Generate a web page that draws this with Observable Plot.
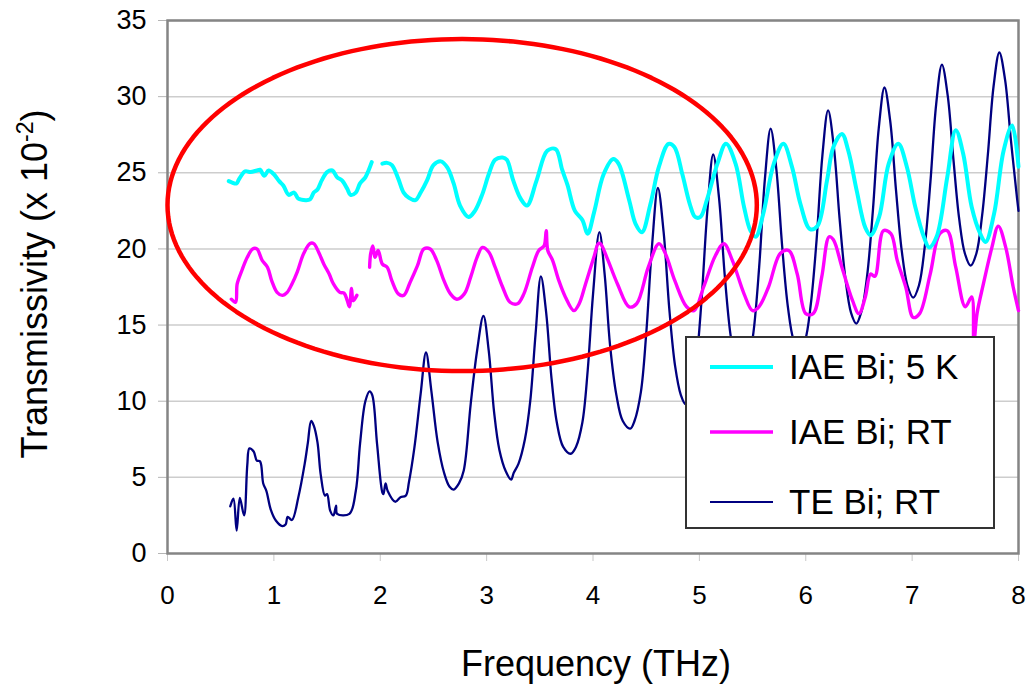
<!DOCTYPE html>
<html><head><meta charset="utf-8">
<script src="https://cdn.jsdelivr.net/npm/d3@7"></script>
<script src="https://cdn.jsdelivr.net/npm/@observablehq/plot@0.6"></script>
<style>body{margin:0;background:#fff} #chart{position:relative;width:1029px;height:686px}</style>
</head><body><div id="chart"></div>
<script>
// ---- Data ----
const seriesNames = ["IAE Bi; 5 K", "IAE Bi; RT", "TE Bi; RT"];
const seriesColors = ["#00FFFF", "#FF00FF", "#000080"];
const xTicks = [0,1,2,3,4,5,6,7,8];
const yTicks = [0,5,10,15,20,25,30,35];

// IAE Bi; 5 K  (two segments, gap near 1.95 THz)
const cyanFreqA = [0.576,0.65,0.67,0.73,0.78,0.84,0.87,0.91,0.95,1.00,1.05,1.09,1.14,1.19,1.23,1.30,1.34,1.375,1.41,1.45,1.50,1.55,1.595,1.64,1.69,1.72,1.77,1.81,1.86,1.89,1.92];
const cyanValA  = [24.45,24.3,24.55,25.1,25.05,25.15,25.2,24.8,25.15,24.9,24.45,24.15,23.55,23.7,23.3,23.2,23.25,23.7,23.9,24.5,25.05,25.15,24.7,24.5,23.95,23.55,23.7,24.3,24.7,25.15,25.7];
const cyanFreqB = [2.02,2.065,2.11,2.17,2.22,2.27,2.33,2.38,2.44,2.50,2.57,2.63,2.69,2.75,2.83,2.89,2.96,3.02,3.08,3.15,3.19,3.25,3.32,3.38,3.47,3.57,3.65,3.71,3.76,3.83,3.90,3.95,4.01,4.10,4.19,4.24,4.34,4.40,4.46,4.54,4.62,4.71,4.765,4.84,4.91,4.96,5.01,5.07,5.17,5.25,5.34,5.42,5.48,5.53,5.60,5.70,5.79,5.87,5.95,6.04,6.11,6.20,6.26,6.34,6.40,6.48,6.56,6.61,6.69,6.78,6.87,6.95,7.03,7.11,7.16,7.23,7.33,7.41,7.48,7.56,7.64,7.69,7.77,7.86,7.94,8.0];
const cyanValB  = [25.6,25.65,25.5,24.6,23.7,23.35,23.2,23.7,24.5,25.5,25.75,25.35,24.3,22.85,22.1,22.5,23.6,24.9,25.85,26.0,25.85,24.5,23.3,22.85,24.5,26.45,26.55,25.2,24.2,22.5,21.9,21.0,22.4,24.9,25.9,25.6,23.2,21.65,21.1,22.95,25.4,26.9,26.7,24.9,22.95,22.1,22.1,23.2,25.6,26.9,25.6,22.75,21.2,20.8,22.3,25.6,26.9,25.4,22.95,21.3,21.5,24.5,26.7,27.55,26.45,23.8,21.4,20.9,22.1,25.6,26.9,25.4,22.75,20.8,20.1,20.8,24.7,27.8,26.25,22.75,21.0,20.45,22.3,26.45,28.1,25.4];

// IAE Bi; RT  (two segments, gap near 1.85 THz)
const magFreqA = [0.60,0.64,0.655,0.70,0.75,0.80,0.84,0.89,0.94,0.98,1.03,1.08,1.125,1.17,1.22,1.28,1.34,1.375,1.42,1.47,1.52,1.56,1.62,1.66,1.69,1.71,1.73,1.745,1.78];
const magValA  = [16.7,16.5,17.7,18.6,19.45,20.0,20.0,19.25,18.8,17.9,17.15,16.95,17.15,17.7,18.5,19.7,20.35,20.35,19.8,19.0,18.35,17.7,17.15,17.1,16.6,16.2,17.4,16.6,16.95];
const magFreqB = [1.90,1.91,1.93,1.95,1.98,2.02,2.065,2.11,2.17,2.22,2.28,2.35,2.41,2.47,2.53,2.60,2.66,2.72,2.79,2.85,2.91,2.96,3.02,3.08,3.15,3.22,3.29,3.35,3.43,3.49,3.54,3.56,3.575,3.62,3.68,3.74,3.82,3.87,3.93,4.01,4.05,4.07,4.13,4.23,4.34,4.41,4.52,4.62,4.68,4.77,4.88,4.95,5.04,5.15,5.23,5.31,5.42,5.50,5.56,5.65,5.76,5.84,5.92,6.00,6.07,6.15,6.22,6.26,6.34,6.44,6.50,6.56,6.61,6.65,6.73,6.80,6.86,6.94,7.01,7.07,7.17,7.26,7.33,7.41,7.50,7.56,7.58,7.61,7.67,7.75,7.81,7.88,7.95,8.0];
const magValB  = [18.8,19.7,20.2,19.45,19.9,19.0,18.8,17.9,17.05,16.95,17.8,18.9,20.0,20.0,19.25,17.9,17.05,16.7,17.05,18.15,19.45,20.1,19.8,18.8,17.5,16.5,16.4,17.05,18.8,19.9,20.2,21.2,19.9,19.25,17.9,16.85,15.95,16.4,17.7,19.5,20.35,20.35,19.45,17.7,16.2,16.4,18.8,20.35,19.7,17.9,16.2,15.95,17.5,19.55,20.35,19.25,17.05,15.95,16.2,17.5,19.7,19.9,18.35,15.75,15.75,18.15,20.8,20.6,18.8,16.6,15.75,16.85,18.35,18.2,21.2,21.0,19.25,17.5,15.5,15.75,18.35,21.0,21.2,18.8,16.2,16.85,13.8,15.75,17.7,20.1,21.5,20.1,17.5,15.95];

// TE Bi; RT
const teFreq = [0.59,0.62,0.65,0.68,0.72,0.75,0.77,0.81,0.84,0.87,0.90,0.93,0.97,1.02,1.08,1.11,1.13,1.17,1.23,1.29,1.32,1.35,1.375,1.41,1.44,1.48,1.50,1.53,1.56,1.585,1.595,1.71,1.77,1.81,1.86,1.90,1.925,1.97,2.02,2.03,2.05,2.07,2.14,2.19,2.24,2.27,2.32,2.38,2.43,2.48,2.54,2.60,2.65,2.69,2.74,2.785,2.85,2.91,2.97,3.02,3.07,3.12,3.18,3.23,3.255,3.30,3.36,3.41,3.46,3.51,3.56,3.61,3.66,3.72,3.79,3.84,3.90,3.95,4.00,4.06,4.11,4.16,4.22,4.28,4.35,4.39,4.45,4.50,4.556,4.61,4.664,4.718,4.772,4.826,4.87,4.92,4.97,5.02,5.076,5.13,5.184,5.238,5.292,5.346,5.40,5.454,5.508,5.562,5.616,5.67,5.724,5.778,5.832,5.886,5.94,5.994,6.048,6.102,6.156,6.21,6.264,6.318,6.372,6.426,6.475,6.524,6.578,6.632,6.686,6.74,6.794,6.848,6.902,6.956,7.01,7.064,7.118,7.172,7.226,7.28,7.334,7.388,7.442,7.496,7.55,7.604,7.658,7.712,7.766,7.82,7.874,7.928,7.982,8.0];
const teVal  = [3.1,3.6,1.5,3.65,2.5,5.8,6.9,6.7,6.1,6.05,4.6,4.1,2.9,2.15,1.8,1.9,2.4,2.2,3.7,5.9,7.3,8.7,8.4,7.3,5.2,3.8,3.9,2.8,2.5,3.15,2.6,2.6,4.1,7.2,10.0,10.65,10.4,7.2,4.0,3.9,4.6,4.1,3.4,3.7,3.8,4.7,6.9,10.5,13.2,10.7,7.3,5.3,4.4,4.2,4.6,5.45,9.8,13.3,15.6,13.3,9.3,6.8,5.4,4.85,5.3,5.9,7.5,10.0,14.4,18.2,15.8,11.5,8.6,7.0,6.55,7.0,8.6,12.0,17.0,21.1,18.3,13.7,10.4,8.7,8.2,8.7,10.6,14.4,20.3,24.0,21.1,16.0,12.3,10.4,9.8,10.4,12.5,16.6,22.6,26.2,23.4,18.3,14.4,12.25,11.6,12.3,14.5,18.8,24.6,27.9,25.2,20.2,16.2,14.0,13.3,14.0,16.4,20.6,26.1,29.1,26.7,22.0,18.1,15.8,15.1,15.9,18.3,22.6,27.9,30.6,28.4,23.9,19.9,17.6,16.8,17.6,20.1,24.4,29.5,32.1,30.1,25.9,22.0,19.7,18.9,19.7,22.2,26.2,30.7,32.9,31.1,27.2,23.6,22.5];

// Red annotation ellipse (data units): centre and radii
const ellipseCenter = [2.77, 22.88];
const ellipseRadii = [2.77, 10.9];

// ---- Build rows ----
const rows = (fs, vs, seg) => fs.map((f, i) => ({f, v: vs[i], seg}));
const cyanRows = [...rows(cyanFreqA, cyanValA, "a"), ...rows(cyanFreqB, cyanValB, "b")];
const magRows = [...rows(magFreqA, magValA, "a"), ...rows(magFreqB, magValB, "b")];
const teRows = rows(teFreq, teVal, "a");
const ellipseRows = d3.range(0, 361, 2).map(a => ({
  f: ellipseCenter[0] + ellipseRadii[0] * Math.cos(a * Math.PI / 180),
  v: ellipseCenter[1] + ellipseRadii[1] * Math.sin(a * Math.PI / 180)
}));

const FONT = "'Liberation Sans', Arial, Helvetica, sans-serif";

const svg = Plot.plot({
  width: 1029, height: 686,
  marginLeft: 167, marginRight: 11, marginTop: 20, marginBottom: 133,
  style: {fontFamily: FONT, background: "white", color: "black"},
  x: {domain: [0, 8]},
  y: {domain: [0, 35]},
  marks: [
    Plot.gridY(yTicks.slice(1), {stroke: "#cdcdcd", strokeWidth: 1.5, strokeOpacity: 1}),
    Plot.axisY(yTicks, {tickSize: 9, tickPadding: 12, fontSize: 27, stroke: "#b5b5b5", fill: "black", label: null}),
    Plot.axisX(xTicks, {tickSize: 8, tickPadding: 24, fontSize: 26, stroke: "#c8c8c8", fill: "black", label: null}),
    Plot.frame({stroke: "#858585", strokeWidth: 2.5}),
    Plot.line(teRows, {x: "f", y: "v", stroke: seriesColors[2], strokeWidth: 2.3, curve: "catmull-rom"}),
    Plot.line(magRows, {x: "f", y: "v", z: "seg", stroke: seriesColors[1], strokeWidth: 3.4, curve: "catmull-rom"}),
    Plot.line(cyanRows, {x: "f", y: "v", z: "seg", stroke: seriesColors[0], strokeWidth: 4, curve: "catmull-rom"}),
    Plot.line(ellipseRows, {x: "f", y: "v", stroke: "#FF0000", strokeWidth: 4.5, curve: "linear"})
  ]
});

const s = d3.select(svg);
// axis titles
s.append("text").attr("x", 596).attr("y", 676).attr("text-anchor", "middle")
  .attr("font-size", 36).attr("font-family", FONT).attr("fill", "black").text("Frequency (THz)");
const yt = s.append("text").attr("transform", "translate(47,284) rotate(-90)").attr("text-anchor", "middle")
  .attr("font-size", 36).attr("font-family", FONT).attr("fill", "black");
yt.append("tspan").text("Transmissivity (x 10");
yt.append("tspan").attr("font-size", 23).attr("dy", -14).text("-2");
yt.append("tspan").attr("dy", 14).text(")");

// legend
const lg = s.append("g").attr("text-anchor", "start");
lg.append("rect").attr("x", 686).attr("y", 337).attr("width", 308).attr("height", 191)
  .attr("fill", "white").attr("stroke", "#333").attr("stroke-width", 2);
const lgY = [367, 432, 502], lgW = [4, 3.4, 2];
seriesNames.forEach((name, i) => {
  lg.append("line").attr("x1", 710).attr("x2", 773).attr("y1", lgY[i]).attr("y2", lgY[i])
    .attr("stroke", seriesColors[i]).attr("stroke-width", lgW[i]);
  lg.append("text").attr("x", 789).attr("y", lgY[i] + 12).attr("font-size", 35)
    .attr("text-anchor", "start").attr("font-family", FONT).attr("fill", "black").text(name);
});

document.getElementById("chart").appendChild(svg);
</script></body></html>
